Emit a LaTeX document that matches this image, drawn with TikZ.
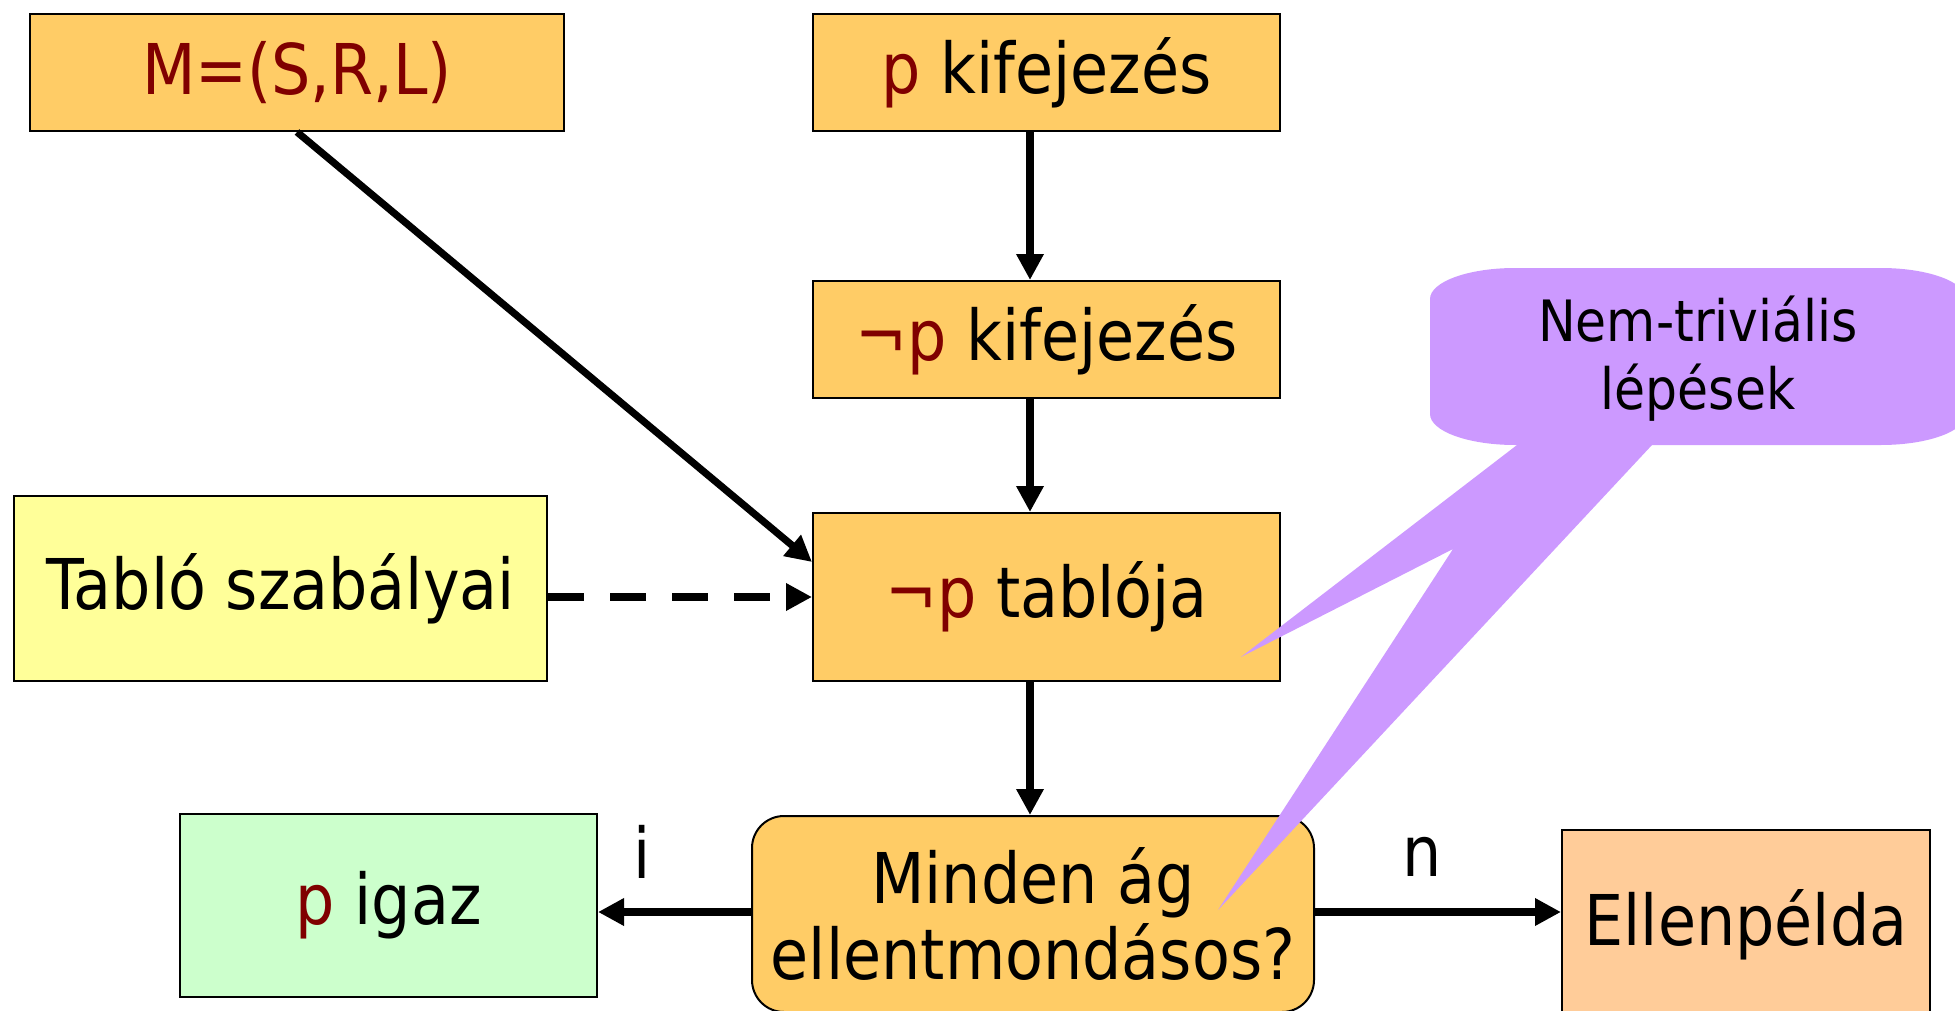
\documentclass[tikz,border=0pt]{standalone}
\usepackage{fontspec}
\setmainfont{DejaVu Sans}[FakeStretch=0.885]
\usetikzlibrary{arrows.meta}
\definecolor{boxorange}{HTML}{FFCC66}
\definecolor{boxyellow}{HTML}{FFFF99}
\definecolor{boxgreen}{HTML}{CCFFCC}
\definecolor{boxpeach}{HTML}{FFCC99}
\definecolor{bubble}{HTML}{CC99FF}
\definecolor{darkred}{HTML}{800000}
\newcommand{\rp}[1]{{\color{darkred}#1}}

\begin{document}
\begin{tikzpicture}[x=0.5pt,y=-0.5pt,
    box/.style={draw, line width=1pt, inner sep=0pt, align=center,
        font=\fontsize{35pt}{38pt}\selectfont},
    arr/.style={-{Triangle[length=13pt,width=13pt]}, line width=3.6pt},
    lab/.style={inner sep=0pt, font=\fontsize{35pt}{38pt}\selectfont}]
    \useasboundingbox (0,0) rectangle (1955,1011);
    \clip (0,0) rectangle (1955,1011);
    \coordinate (axis) at (1030,0);
    \node[box, fill=boxorange, minimum width=267pt, minimum height=58.5pt] (model) at (297,72.5) {\rp{M=(S,R,L)}};
    \node[box, fill=boxorange, minimum width=233.5pt, minimum height=58.5pt] (pkif) at (1046.5,72.5) {\rp{p} kifejezés};
    \node[box, fill=boxorange, minimum width=233.5pt, minimum height=58.5pt] (npkif) at (1046.5,339.5) {\rp{¬p} kifejezés};
    \node[box, fill=boxorange, minimum width=233.5pt, minimum height=84pt] (tablo) at (1046.5,597) {\rp{¬p} tablója};
    \node[box, fill=boxyellow, minimum width=266.5pt, minimum height=92.5pt] (szab) at (280.5,588.5) {Tabló szabályai};
    \node[box, fill=boxorange, rounded corners=16pt, minimum width=281pt, minimum height=98pt] (minden) at (1033,914) {Minden ág\\ellentmondásos?};
    \node[box, fill=boxgreen, minimum width=208.5pt, minimum height=91.5pt] (igaz) at (388.5,905.5) {\rp{p} igaz};
    \node[box, fill=boxpeach, minimum width=184pt, minimum height=95pt] (ellen) at (1746,925) {Ellenpélda};
    \node[lab] (labi) at (642,852) {i};
    \node[lab] (labn) at (1422,857) {n};

    \draw[arr] (pkif.south -| axis) -- (npkif.north -| axis);
    \draw[arr] (npkif.south -| axis) -- (tablo.north -| axis);
    \draw[arr] (tablo.south -| axis) -- (minden.north -| axis);
    \draw[arr] (model.south) -- ([yshift=-25pt]tablo.north west);
    \draw[arr, dash pattern=on 18pt off 13pt] (szab.east |- tablo.west) -- (tablo.west);
    \draw[arr] ([yshift=1pt]minden.west) -- ([yshift=1pt]igaz.east |- minden.west);
    \draw[arr] ([yshift=1pt]minden.east) -- ([yshift=1pt]ellen.west |- minden.east);

    \fill[bubble] (1517,445) -- (1241,657) -- (1453,549) -- (1218,910) -- (1652,445) -- cycle;
    \fill[bubble] (1515,268) -- (1881,268) arc[start angle=-90, end angle=0, x radius=85, y radius=31]
        -- (1966,414) arc[start angle=0, end angle=90, x radius=85, y radius=31]
        -- (1515,445) arc[start angle=90, end angle=180, x radius=85, y radius=31]
        -- (1430,299) arc[start angle=180, end angle=270, x radius=85, y radius=31] -- cycle;
    \node[align=center, inner sep=0pt, font=\fontsize{28.5pt}{34pt}\selectfont] (note) at (1698,359) {Nem-triviális\\lépések};
\end{tikzpicture}
\end{document}
